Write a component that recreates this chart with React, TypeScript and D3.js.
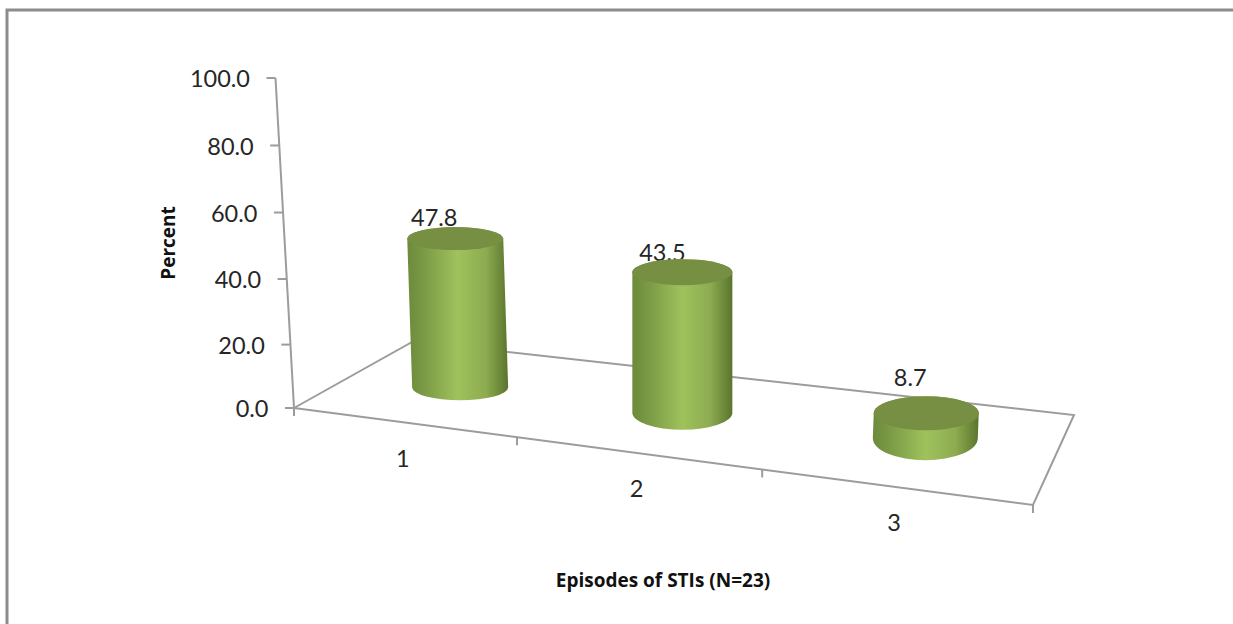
import React from "react";
import * as d3 from "d3";

// Chart values
const categories = ["1", "2", "3"];
const percents = [47.8, 43.5, 8.7];
const valueTicks = [0, 20, 40, 60, 80, 100];
const yTitle = "Percent";
const xTitle = "Episodes of STIs (N=23)";

// Floor corners of the 3D plot box
const FRONT_LEFT = { x: 294, y: 408 };
const FRONT_RIGHT = { x: 1033, y: 505 };
const BACK_RIGHT = { x: 1074, y: 415 };
const BACK_LEFT = { x: 413, y: 341.5 };
const AXIS_TOP = { x: 275.5, y: 78 };

// Cylinder shape per category slot (perspective squash differs along the floor)
const slotRadiusX = [48, 50, 52.5];
const slotCapRadiusY = [11.5, 13, 17];
const slotBaseRadiusY = [13, 17, 22];
const slotHeightFactor = [0.96, 1, 0.93];
const slotBaseShiftX = [0, 2.5, 2];
const slotBaseShiftY = [3, 2, -2];
const slotLabelGap = [9, 6, 18];
const slotLabelShift = [-21, -20, -16];

const FONT = "Lato, 'Open Sans', sans-serif";
const TITLE_FONT = "'Open Sans', sans-serif";
const TEXT = "#262626";
const AXIS = "#9c9c9c";
const TICK_FONT_SIZE = 23.5;
const TITLE_FONT_SIZE = 19;

// Height above the floor, with a slight perspective stretch toward the top
const heightScale = d3.scalePow().exponent(1.025).domain([0, 100]).range([0, 330]);

// Foreshortened position along the front edge of the floor
const FORESHORTEN = -0.1355;
const frontPoint = (u: number) => {
  const k = (u * (1 + FORESHORTEN)) / (1 + FORESHORTEN * u);
  return {
    x: FRONT_LEFT.x + (FRONT_RIGHT.x - FRONT_LEFT.x) * k,
    y: FRONT_LEFT.y + (FRONT_RIGHT.y - FRONT_LEFT.y) * k,
  };
};

// Verticals converge slightly, so tall things lean away from the chart centre
const VANISH_X = 682;
const LEAN = 1.5e-4;

const bandScale = d3.scaleBand<string>().domain(categories).range([0, 1]);

const floorPoint = (u: number, depth: number) => {
  const f = frontPoint(u);
  const dx = d3.interpolateNumber(BACK_LEFT.x - FRONT_LEFT.x, BACK_RIGHT.x - FRONT_RIGHT.x)(u);
  const dy = d3.interpolateNumber(BACK_LEFT.y - FRONT_LEFT.y, BACK_RIGHT.y - FRONT_RIGHT.y)(u);
  return { x: f.x + dx * depth, y: f.y + dy * depth };
};

const axisX = (v: number) =>
  d3.scaleLinear().domain([0, 100]).range([FRONT_LEFT.x, AXIS_TOP.x])(v);

const line = d3.line();

export default function App() {
  const cylinders = categories.map((c, i) => {
    const u = (bandScale(c) as number) + bandScale.bandwidth() / 2;
    const floor = floorPoint(u, 0.54);
    const base = { x: floor.x + slotBaseShiftX[i], y: floor.y + slotBaseShiftY[i] };
    const h = heightScale(percents[i]) * slotHeightFactor[i];
    const top = { x: base.x + (base.x - VANISH_X) * h * LEAN, y: base.y - h };
    const rx = slotRadiusX[i];
    const capRy = slotCapRadiusY[i];
    const baseRy = slotBaseRadiusY[i];
    const side = [
      `M${top.x - rx},${top.y}`,
      `L${base.x - rx},${base.y}`,
      `A${rx},${baseRy} 0 0 0 ${base.x + rx},${base.y}`,
      `L${top.x + rx},${top.y}`,
      `A${rx},${capRy} 0 0 0 ${top.x - rx},${top.y}`,
      "Z",
    ].join(" ");
    return { c, i, top, base, rx, capRy, side };
  });

  return (
    <svg
      width={1233}
      height={624}
      viewBox="0 0 1233 624"
      style={{ position: "absolute", left: 0, top: 0, background: "#fff" }}
    >
      <defs>
        <linearGradient id="cylSide" x1="0" x2="1" y1="0" y2="0">
          <stop offset="0" stopColor="#6b8a3b" />
          <stop offset="0.2" stopColor="#7f9e48" />
          <stop offset="0.5" stopColor="#9fc25c" />
          <stop offset="0.78" stopColor="#8dab50" />
          <stop offset="1" stopColor="#5a752d" />
        </linearGradient>
      </defs>

      {/* Chart frame: only the top and left edges show */}
      <path d="M7,624 V10 H1233" fill="none" stroke="#8c8c8c" strokeWidth={3} />

      {/* Floor outline */}
      <path
        d={
          line([
            [FRONT_LEFT.x, FRONT_LEFT.y],
            [BACK_LEFT.x, BACK_LEFT.y],
            [BACK_RIGHT.x, BACK_RIGHT.y],
            [FRONT_RIGHT.x, FRONT_RIGHT.y],
            [FRONT_LEFT.x, FRONT_LEFT.y],
          ]) as string
        }
        fill="none"
        stroke={AXIS}
        strokeWidth={2}
      />

      {/* Value axis */}
      <line
        x1={axisX(0)}
        y1={FRONT_LEFT.y - heightScale(0)}
        x2={axisX(100)}
        y2={FRONT_LEFT.y - heightScale(100)}
        stroke={AXIS}
        strokeWidth={2}
      />
      {valueTicks.map((t) => {
        const x = axisX(t);
        const y = FRONT_LEFT.y - heightScale(t);
        return (
          <g key={t}>
            <line x1={x - 9} x2={x} y1={y} y2={y} stroke={AXIS} strokeWidth={2} />
            <text
              x={x - 25.5}
              y={y + 1}
              dy="0.35em"
              textAnchor="end"
              fontFamily={FONT}
              fontSize={TICK_FONT_SIZE}
              fill={TEXT}
            >
              {t.toFixed(1)}
            </text>
          </g>
        );
      })}

      {/* Category ticks on the front edge */}
      {d3.range(categories.length + 1).map((k) => {
        const p = frontPoint(k / categories.length);
        return (
          <line key={k} x1={p.x} x2={p.x} y1={p.y} y2={p.y + 8} stroke={AXIS} strokeWidth={2} />
        );
      })}

      {categories.map((c) => {
        const p = frontPoint((bandScale(c) as number) + bandScale.bandwidth() / 2);
        return (
          <text
            key={c}
            x={p.x}
            y={p.y + 36}
            dy="0.35em"
            textAnchor="middle"
            fontFamily={FONT}
            fontSize={TICK_FONT_SIZE}
            fill={TEXT}
          >
            {c}
          </text>
        );
      })}

      {/* Value labels sit behind the cylinders, whose caps can clip them */}
      {cylinders.map(({ c, i, top, capRy }) => (
        <text
          key={c}
          x={top.x + slotLabelShift[i]}
          y={top.y - capRy - slotLabelGap[i]}
          dy="0.35em"
          textAnchor="middle"
          fontFamily={FONT}
          fontSize={TICK_FONT_SIZE}
          fill={TEXT}
        >
          {percents[i].toFixed(1)}
        </text>
      ))}

      {/* Cylinders */}
      {cylinders.map(({ c, top, rx, capRy, side }) => (
        <g key={c}>
          <path d={side} fill="url(#cylSide)" />
          <ellipse cx={top.x} cy={top.y} rx={rx} ry={capRy} fill="#778f43" />
        </g>
      ))}

      {/* Axis titles */}
      <text
        transform="translate(168,243) rotate(-90)"
        textAnchor="middle"
        dy="0.35em"
        fontFamily={TITLE_FONT}
        fontWeight={700}
        fontSize={TITLE_FONT_SIZE}
        fill="#111"
      >
        {yTitle}
      </text>
      <text
        x={663}
        y={580}
        textAnchor="middle"
        dy="0.35em"
        fontFamily={TITLE_FONT}
        fontWeight={700}
        fontSize={TITLE_FONT_SIZE}
        fill="#111"
      >
        {xTitle}
      </text>
    </svg>
  );
}
